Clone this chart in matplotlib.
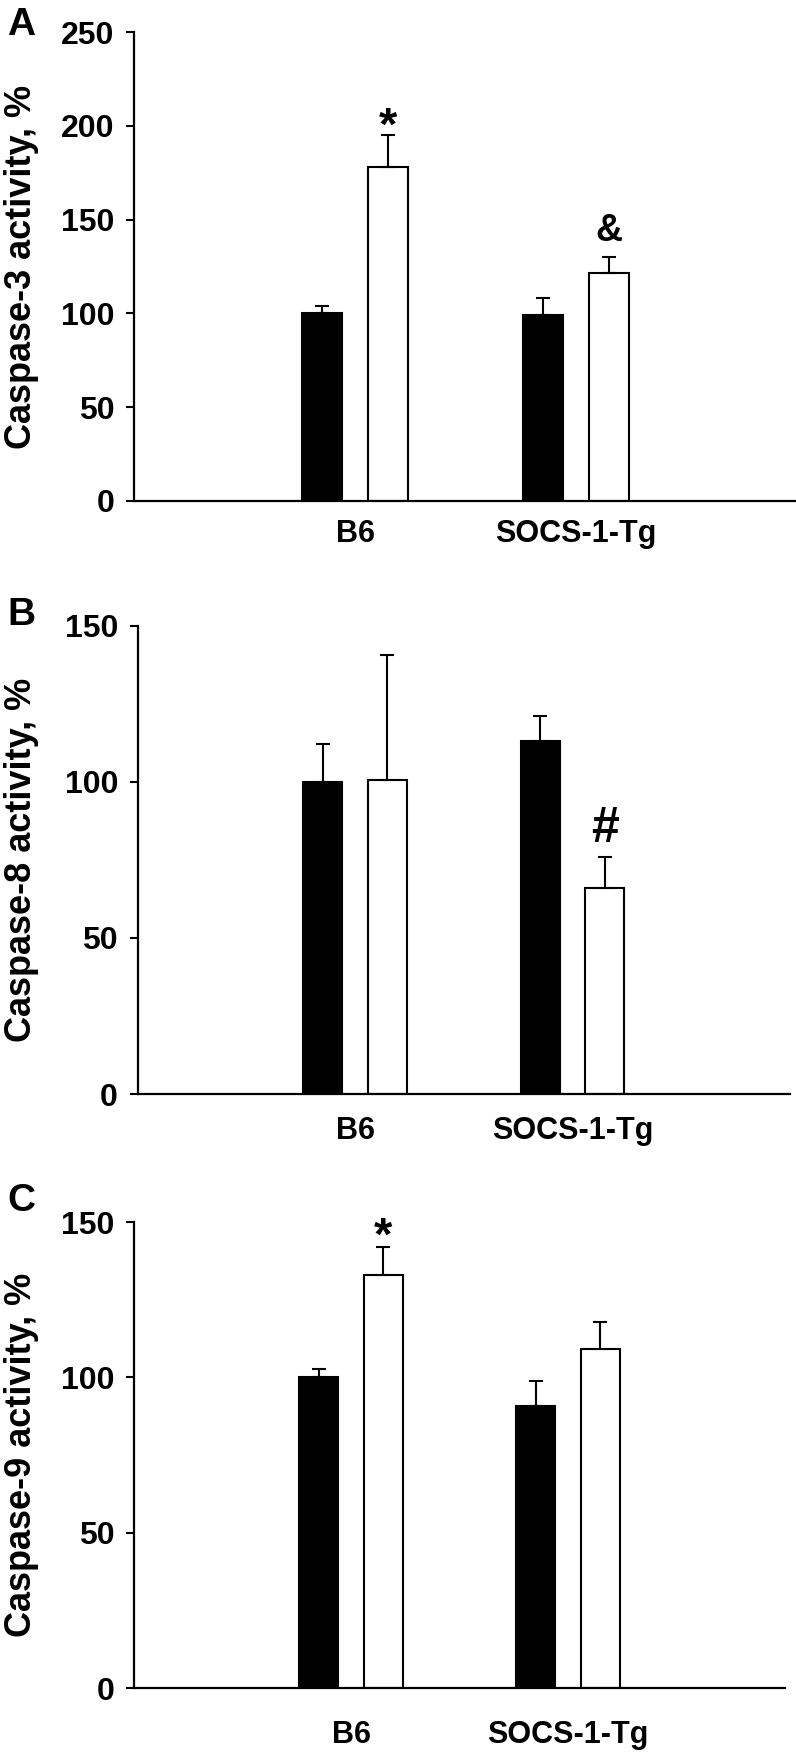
import numpy as np
import matplotlib
matplotlib.use("Agg")
import matplotlib.pyplot as plt

plt.rcParams['font.family'] = ['Liberation Sans', 'DejaVu Sans']
plt.rcParams['font.weight'] = 'bold'

groups = ['B6', 'SOCS-1-Tg']

# caspase-3 (panel A)
c3_black = [100, 99.4]
c3_black_err = [4, 9]
c3_white = [178, 121.3]
c3_white_err = [17, 8.7]

# caspase-8 (panel B)
c8_black = [100, 113.2]
c8_black_err = [12.3, 8]
c8_white = [100.6, 66]
c8_white_err = [40, 10]

# caspase-9 (panel C)
c9_black = [100, 90.8]
c9_black_err = [2.7, 8.1]
c9_white = [132.9, 109]
c9_white_err = [9.2, 8.7]

# significance marks: (group index, y value, symbol)
c3_marks = [(0, 199, '*'), (1, 144, '&')]
c8_marks = [(1, 85, '#')]
c9_marks = [(0, 145, '*')]
mark_size = {'*': 34, '&': 27, '#': 36}

W, H = 796, 1752
fig = plt.figure(figsize=(W / 100, H / 100), dpi=100)


def panel(rect, black, black_err, white, white_err, marks, ymax, ystep,
          ylabel, letter, letter_y, xpad):
    l, b, r, t = rect
    ax = fig.add_axes([l / W, 1 - b / H, (r - l) / W, (b - t) / H])
    x = np.arange(len(groups))
    off, bw = 0.148, 0.18
    ax.bar(x - off, black, bw, color='black', edgecolor='black', lw=1.5)
    ax.bar(x + off, white, bw, color='white', edgecolor='black', lw=1.5)
    ax.errorbar(x - off, black, yerr=[np.zeros(len(x)), black_err], fmt='none',
                ecolor='black', elinewidth=1.5, capsize=4.7, capthick=1.5)
    ax.errorbar(x + off, white, yerr=[np.zeros(len(x)), white_err], fmt='none',
                ecolor='black', elinewidth=1.5, capsize=4.7, capthick=1.5)
    for gi, yv, sym in marks:
        ax.text(gi + off, yv, sym, ha='center', va='center',
                fontsize=mark_size[sym], fontweight='bold')
    ax.set_xlim(-1, 2)
    ax.set_ylim(0, ymax)
    ax.set_yticks(np.arange(0, ymax + 1, ystep))
    ax.set_xticks(x)
    ax.set_xticklabels(groups, fontsize=22, fontweight='bold')
    ax.tick_params(axis='x', length=0, pad=xpad)
    ax.tick_params(axis='y', length=6, width=1.5, pad=8, labelsize=23)
    for s in ['top', 'right']:
        ax.spines[s].set_visible(False)
    for s in ['left', 'bottom']:
        ax.spines[s].set_linewidth(1.6)
    fig.text(22 / W, 1 - (b + t) / 2 / H, ylabel, rotation=90, ha='center',
             va='center', fontsize=26, fontweight='bold')
    fig.text(7 / W, 1 - letter_y / H, letter, ha='left', va='top',
             fontsize=28, fontweight='bold')
    return ax


panel((134, 501, 797, 32), c3_black, c3_black_err, c3_white, c3_white_err,
      c3_marks, 250, 50, 'Caspase-3 activity, %', 'A', 7, 13)
panel((137.5, 1094, 790, 626), c8_black, c8_black_err, c8_white, c8_white_err,
      c8_marks, 150, 50, 'Caspase-8 activity, %', 'B', 597, 16)
panel((134, 1688, 785, 1222), c9_black, c9_black_err, c9_white, c9_white_err,
      c9_marks, 150, 50, 'Caspase-9 activity, %', 'C', 1183, 23)

fig.savefig('out.png', dpi=100)
